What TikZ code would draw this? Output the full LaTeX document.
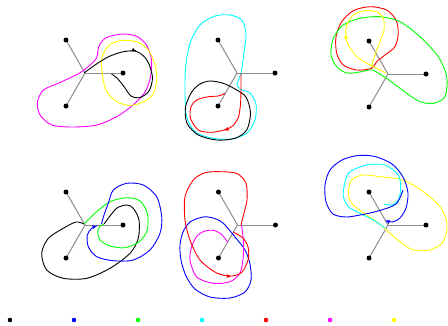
\documentclass[tikz,border=0pt]{standalone}
\usetikzlibrary{decorations.markings,arrows.meta}
\definecolor{pblue}{RGB}{0,0,255}
\definecolor{pgreen}{RGB}{0,255,0}
\definecolor{pcyan}{RGB}{0,255,255}
\definecolor{pred}{RGB}{255,0,0}
\definecolor{pmag}{RGB}{255,0,255}
\definecolor{pyel}{RGB}{255,255,0}
\definecolor{pgray}{RGB}{140,140,140}
\begin{document}
\begin{tikzpicture}[x=1pt,y=-1pt,
  curve/.style={line width=0.9pt},
  spoke/.style={draw=pgray, line width=1pt},
  dot/.style={circle, fill=black, inner sep=0pt, minimum size=5pt},
  ldot/.style={circle, inner sep=0pt, minimum size=4.6pt},
  endarrow/.style={-{Latex[length=5pt,width=4pt]}},
  arrowat/.style={postaction={decorate}, decoration={markings, mark=at position #1 with {\arrow{Latex[length=5pt,width=4pt]}}}}]
\path[use as bounding box] (0,0) rectangle (448,325);
% stars
\foreach \n/\cx/\cy in {1/85/73, 2/237/73, 3/388/74, 4/85/225, 5/237.5/225, 6/388/225} {
  \coordinate (c\n) at (\cx,\cy);
  \coordinate (r\n) at (\cx+38,\cy);
  \coordinate (u\n) at (\cx-19,\cy-33);
  \coordinate (d\n) at (\cx-19,\cy+33);
  \draw[spoke] (c\n) -- (r\n);
  \draw[spoke] (c\n) -- (u\n);
  \draw[spoke] (c\n) -- (d\n);
}
% panel 1
\draw[curve, pmag] plot[smooth cycle] coordinates {(123,34) (137,36.5) (146.5,45) (151.5,60) (150.5,77) (145,92) (133,105) (117,116.5) (97,125) (73,127) (52,125) (40,115) (37.5,102) (43.5,90) (60,82.5) (75,75.5) (82,71.5) (89,66) (96.5,58) (99,46) (106.5,37.5)};
\draw[curve, pyel] plot[smooth cycle] coordinates {(120,40.7) (136.7,41.7) (148.3,50) (155,65) (156.7,81.7) (151.7,96) (140,103.3) (128.3,105.3) (115,100.7) (106,90) (102.5,75) (101.7,58.3) (108.3,46)};
\draw[curve, black, arrowat=0.38] plot[smooth] coordinates {(84,73) (95,65) (108,57) (122,52) (135,51) (143.5,56) (149,64) (152.5,78) (149,91) (140,97.5) (131,96) (124,86.5) (117,78) (111.5,74)};
% panel 2
\draw[curve, pcyan] plot[smooth cycle] coordinates {(230,15) (241.7,20) (246,33.3) (244,53.3) (241,73) (237,84) (241,89.5) (250,93) (256,104) (255,120) (246.7,133.3) (230,139.3) (210,137.7) (195,131.7) (186.7,116.7) (185,93.3) (185.7,66.7) (190,43.3) (200,25) (215,16)};
\draw[curve, black] plot[smooth cycle] coordinates {(210,81) (223.3,83.3) (235,89) (246,97) (250.5,113) (246.7,130) (235,138.3) (216.7,140) (198.3,135) (187,123.3) (185.5,107) (191.7,92) (200,84)};
\draw[curve, pred, arrowat=0.42] plot[smooth] coordinates {(241,73) (241,90) (240.5,104) (238.5,117) (233.5,125) (226.7,129.3) (211.7,132.3) (198.3,130) (190.5,118.3) (191,106.7) (196.7,100) (208.3,96.7) (218.3,96) (225,93.3)};
% panel 3
\draw[curve, pred] plot[smooth cycle] coordinates {(370,6.7) (386.7,10) (396,20) (398.3,33.3) (395,46.7) (385,55) (376.7,61.7) (371.7,68.3) (356.7,70) (343.3,65) (336.7,53.3) (336,36.7) (341.7,21.7) (353.3,10.7)};
\draw[curve, pgreen] plot[smooth cycle] coordinates {(333.3,38.3) (343.3,25) (360,18.3) (380,16.7) (400,21.7) (420,36.7) (438.3,56.7) (446.7,76.7) (445,96.7) (433.3,103.3) (420,101.7) (406.7,93.3) (393.3,83.3) (383,76) (372,70) (360,72) (347,73) (337,67) (331,55)};
\draw[curve, pyel, arrowat=0.36] plot[smooth] coordinates {(386,73) (370,65) (357,56.7) (348.3,45) (346,36.7) (346.7,25) (353.3,15) (365,10.7) (376.7,11.7) (383.3,18.3) (384,30) (380,41.7) (376,52) (373,61) (372,67)};
% panel 4
\draw[curve, black] plot[smooth] coordinates {(104,224) (110,216) (117,208) (126.7,205) (133.3,208.3) (139,220) (138.3,238.3) (130,253.3) (110,268.3) (86.7,278.3) (63.3,278.3) (46.7,270) (41.7,253.3) (48.3,238.3) (63.3,228.3) (76,222) (84,224)};
\draw[curve, pgreen] plot[smooth] coordinates {(84,224) (96.7,211.7) (110,201.7) (126.7,197.7) (140,201) (147.3,213.3) (147.3,230) (139.3,241.7) (125,247.7) (110,246) (100,240) (97.7,231.7) (100,226) (104,224.5)};
\draw[curve, pblue, endarrow] plot[smooth] coordinates {(101.5,224) (104,215) (108.3,203.3) (113.3,190) (126.7,183.3) (143.3,185) (156.7,196.7) (161.7,216.7) (160,233.3) (150,250) (133.3,260) (113.3,260.7) (96.7,256.7) (88.3,246.7) (87.3,235) (91.7,228.3) (97.5,225.8)};
% panel 5
\draw[curve, pblue] plot[smooth cycle] coordinates {(203,217) (190,222) (183,232) (180,245) (181,260) (186,276) (195,289) (210,297) (230,298) (245,292) (251,280) (250,264) (245,250) (235,237) (223,223) (213,218)};
\draw[curve, pmag] plot[smooth] coordinates {(241.5,225) (243.3,240) (243.3,256.7) (240,273) (230,281.7) (213.3,283.3) (196.7,277) (190,260) (191.7,246.7) (197,236) (205,231) (214,230.5) (221.7,234.5) (227.5,242)};
\draw[curve, pred, arrowat=0.79] plot[smooth] coordinates {(241,225) (244,213) (247,200) (246,183.3) (237,173.5) (220,171.7) (205,172.7) (193.3,180) (185,196.7) (185,220) (190,240) (200,260) (216.7,273) (232,276) (242,272) (248,260) (248.3,248) (243.3,238.3) (233.3,232)};
% panel 6
\draw[curve, pyel] plot[smooth cycle] coordinates {(351.7,180) (363.3,175) (380,176.7) (403.3,180) (423.3,191.7) (440,206.7) (447,223.3) (443.3,241.7) (430,250) (413.3,250) (400,241.7) (388.3,231.7) (376.7,221.7) (361.7,211.7) (351.7,203.3) (348.3,193.3)};
\draw[curve, pcyan] plot[smooth] coordinates {(385,228) (373.3,220) (360,213.3) (348.3,206.7) (343.3,196) (345,182) (350,171.7) (366.7,165) (385,165) (398.3,175) (400.7,188.3) (398.3,200) (391.7,205) (384,204)};
\draw[curve, pblue, endarrow] plot[smooth] coordinates {(403,190) (396,204) (378,211) (360,215) (346,217) (333,214) (326,202) (325,185) (330,170) (342,160) (358,155.5) (375,156.5) (392,164) (403,177) (408,193) (406,208) (400,218) (392,222) (385,220)};
% dots
\foreach \n in {1,...,6} {
  \node[dot] (R\n) at (r\n) {};
  \node[dot] (U\n) at (u\n) {};
  \node[dot] (D\n) at (d\n) {};
}
% legend
\foreach \i/\x/\col in {1/10/black, 2/74/pblue, 3/138/pgreen, 4/202/pcyan, 5/266/pred, 6/330/pmag, 7/394/pyel} {
  \node[ldot, fill=\col] (L\i) at (\x,320) {};
}
\end{tikzpicture}
\end{document}
